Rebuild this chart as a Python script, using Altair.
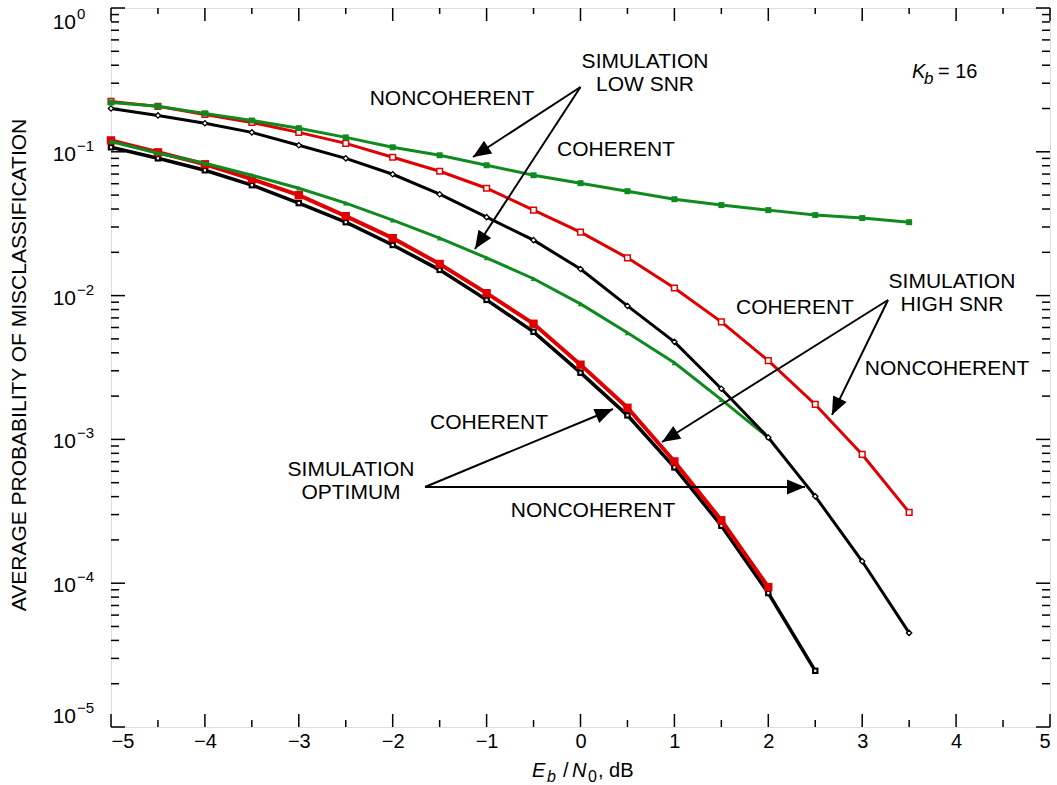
import math
import altair as alt
import pandas as pd

# ---------------- data ----------------
ebn0_long = [-5.0, -4.5, -4.0, -3.5, -3.0, -2.5, -2.0, -1.5, -1.0, -0.5, 0.0, 0.5,
             1.0, 1.5, 2.0, 2.5, 3.0, 3.5]
ebn0_coh = [-5.0, -4.5, -4.0, -3.5, -3.0, -2.5, -2.0, -1.5, -1.0, -0.5, 0.0, 0.5,
            1.0, 1.5, 2.0]
ebn0_opt_coh = [-5.0, -4.5, -4.0, -3.5, -3.0, -2.5, -2.0, -1.5, -1.0, -0.5, 0.0, 0.5,
                1.0, 1.5, 2.0, 2.5]

low_snr_noncoh = [0.220, 0.207, 0.185, 0.165, 0.146, 0.126, 0.1075, 0.0946, 0.0806,
                  0.0687, 0.0605, 0.0532, 0.0468, 0.0426, 0.0393, 0.0363, 0.0346, 0.0324]
high_snr_noncoh = [0.224, 0.207, 0.182, 0.160, 0.1365, 0.1145, 0.0916, 0.0732, 0.0558,
                   0.0393, 0.0276, 0.0183, 0.0113, 0.00657, 0.00353, 0.00175, 0.000786,
                   0.000311]
opt_noncoh = [0.200, 0.179, 0.158, 0.1365, 0.111, 0.0901, 0.0698, 0.0507, 0.0351,
              0.0243, 0.0153, 0.00848, 0.00477, 0.00225, 0.00103, 0.000402, 0.000142,
              0.0000451]
low_snr_coh = [0.118, 0.0976, 0.0832, 0.0687, 0.0558, 0.0440, 0.0335, 0.0251, 0.0183,
               0.0131, 0.00876, 0.00551, 0.00341, 0.00189, 0.00103]
high_snr_coh = [0.120, 0.0992, 0.0819, 0.0645, 0.0499, 0.0357, 0.0251, 0.0166, 0.0104,
                0.00637, 0.00331, 0.00166, 0.000703, 0.000274, 0.0000940]
opt_coh = [0.1075, 0.0901, 0.0744, 0.0586, 0.0440, 0.0324, 0.0225, 0.0151, 0.00934,
           0.0056, 0.00291, 0.00147, 0.000639, 0.000251, 0.0000854, 0.0000246]

x_major = [-5, -4, -3, -2, -1, 0, 1, 2, 3, 4, 5]
x_minor = [-4.5, -3.5, -2.5, -1.5, -0.5, 0.5, 1.5, 2.5, 3.5, 4.5]
y_major = [1.0, 0.1, 0.01, 0.001, 0.0001, 0.00001]
y_major_exp = ["0", "\u22121", "\u22122", "\u22123", "\u22124", "\u22125"]
y_minor = [m * 10.0 ** e for e in range(-5, 0) for m in range(2, 10)]

# annotation texts (data coordinates)
ann_text = ["NONCOHERENT", "SIMULATION", "LOW SNR", "COHERENT",
            "SIMULATION", "HIGH SNR", "COHERENT", "NONCOHERENT",
            "COHERENT", "SIMULATION", "OPTIMUM", "NONCOHERENT"]
ann_x = [-1.369, 0.687, 0.687, 0.378,
         3.956, 3.956, 2.284, 3.903,
         -0.974, -2.444, -2.444, 0.133]
ann_p = [0.2328, 0.421, 0.2913, 0.1029,
         0.01244, 0.00861, 0.0082, 0.00309,
         0.0013, 0.000612, 0.000424, 0.000318]

# arrows: start (apex) -> tip
arr_x0 = [0.0, 0.0, 3.275, 3.275, -1.656, -1.656]
arr_p0 = [0.2823, 0.2823, 0.00932, 0.00932, 0.000467, 0.000467]
arr_x1 = [-1.145, -1.124, 0.868, 2.678, 0.346, 2.391]
arr_p1 = [0.0920, 0.02109, 0.000959, 0.00148, 0.001627, 0.000467]

# ---------------- layout ----------------
W, H = 939, 719
GREEN = "#0f8a1f"
RED = "#e00000"
FONT = "Liberation Sans"

xs = alt.Scale(domain=[-5, 5], nice=False, zero=False)
ys = alt.Scale(type="log", domain=[1e-5, 1], nice=False)

AX = alt.Axis(values=x_major, labelFontSize=20, labelFont=FONT, labelColor="black",
              ticks=False, domain=False, grid=False, labelPadding=4, labelFlush=True,
              title=None)
AY = alt.Axis(labels=False, ticks=False, domain=False, grid=False, title=None)


def X(field="x"):
    return alt.X(f"{field}:Q", scale=xs, axis=AX)


def Y(field="p"):
    return alt.Y(f"{field}:Q", scale=ys, axis=AY)


def px(x):
    return (x + 5) / 10 * W


def py(p):
    return -math.log10(p) / 5 * H


layers = []

# ticks (inward, on all four sides)
def x_ticks(vals, blen, tlen):
    b = alt.Chart(pd.DataFrame({"x": vals})).mark_rule(color="black", strokeWidth=1.5)
    return [b.encode(x=X(), y=alt.value(H), y2=alt.value(H - blen)),
            b.encode(x=X(), y=alt.value(0), y2=alt.value(tlen))]


def y_ticks(vals, ln):
    b = alt.Chart(pd.DataFrame({"p": vals})).mark_rule(color="black", strokeWidth=1.5)
    return [b.encode(y=Y(), x=alt.value(0), x2=alt.value(ln)),
            b.encode(y=Y(), x=alt.value(W - ln), x2=alt.value(W))]


layers += x_ticks(x_major, 13, 13)
layers += x_ticks(x_minor, 7, 6)
layers += y_ticks(y_major, 14)
layers += y_ticks(y_minor, 8)


def line(xv, pv, color, width):
    df = pd.DataFrame({"x": xv, "p": pv})
    return alt.Chart(df).mark_line(color=color, strokeWidth=width).encode(x=X(), y=Y())


def pts(xv, pv, **kw):
    df = pd.DataFrame({"x": xv, "p": pv})
    return alt.Chart(df).mark_point(opacity=1, **kw).encode(x=X(), y=Y())


# coherent optimum (black, lower)
layers.append(line(ebn0_opt_coh, opt_coh, "black", 3.5))
layers.append(pts(ebn0_opt_coh, opt_coh, shape="square", filled=True, color="black", size=42))
layers.append(pts(ebn0_opt_coh, opt_coh, shape="square", filled=True, color="white", size=5))
# coherent high SNR (red filled squares)
layers.append(line(ebn0_coh, high_snr_coh, RED, 4))
layers.append(pts(ebn0_coh, high_snr_coh, shape="square", filled=True, color=RED, size=70))
# coherent low SNR (green triangles)
layers.append(line(ebn0_coh, low_snr_coh, GREEN, 3))
layers.append(pts(ebn0_coh, low_snr_coh, shape="triangle-up", filled=True, color=GREEN, size=30))
# noncoherent optimum (black, upper)
layers.append(line(ebn0_long, opt_noncoh, "black", 3))
layers.append(pts(ebn0_long, opt_noncoh, shape="diamond", filled=True, fill="white",
                  stroke="black", strokeWidth=1.3, size=28))
# noncoherent high SNR (red open squares)
layers.append(line(ebn0_long, high_snr_noncoh, RED, 3))
layers.append(pts(ebn0_long, high_snr_noncoh, shape="square", filled=True, fill="white",
                  stroke=RED, strokeWidth=1.5, size=32))
# noncoherent low SNR (green filled squares)
layers.append(line(ebn0_long, low_snr_noncoh, GREEN, 3))
layers.append(pts(ebn0_long, low_snr_noncoh, shape="square", filled=True, color=GREEN, size=36))

# arrows
arr_df = pd.DataFrame({"x": arr_x0, "p": arr_p0, "x2": arr_x1, "p2": arr_p1})
layers.append(alt.Chart(arr_df).mark_rule(color="black", strokeWidth=2).encode(
    x=X(), y=Y(), x2="x2:Q", y2="p2:Q"))
angles = []
for a, b, c, d in zip(arr_x0, arr_p0, arr_x1, arr_p1):
    dx = px(c) - px(a)
    dy = py(d) - py(b)
    angles.append(math.degrees(math.atan2(dx, -dy)) % 360)
head_df = pd.DataFrame({"x": arr_x1, "p": arr_p1, "ang": angles})
layers.append(alt.Chart(head_df).mark_point(
    shape="M0,0L0.42,1L-0.42,1Z", filled=True, color="black", opacity=1, size=1300,
    strokeWidth=0).encode(x=X(), y=Y(), angle=alt.Angle("ang:Q", scale=None)))

# annotation texts
ann_df = pd.DataFrame({"x": ann_x, "p": ann_p, "t": ann_text})
layers.append(alt.Chart(ann_df).mark_text(font=FONT, fontSize=21, align="center",
                                          baseline="middle", color="black").encode(
    x=X(), y=Y(), text="t:N"))

# K_b = 16
kb = alt.Chart(pd.DataFrame({"x": [3.530], "p": [0.326]}))
layers.append(kb.mark_text(font=FONT, fontSize=20, fontStyle="italic", align="left",
                           baseline="alphabetic", text="K").encode(x=X(), y=Y()))
layers.append(kb.mark_text(font=FONT, fontSize=17, fontStyle="italic", align="left",
                           baseline="alphabetic", text="b", dx=12, dy=6).encode(x=X(), y=Y()))
layers.append(kb.mark_text(font=FONT, fontSize=20, align="left",
                           baseline="alphabetic", text="= 16", dx=26).encode(x=X(), y=Y()))

# y tick labels (10 with superscript exponent)
ylab = pd.DataFrame({"p": y_major, "e": y_major_exp})
groups = [(ylab.iloc[[0]], 15), (ylab.iloc[1:5], 3), (ylab.iloc[[5]], -10)]
for sub, off in groups:
    c = alt.Chart(sub)
    layers.append(c.mark_text(font=FONT, fontSize=21, align="right", baseline="middle",
                              text="10", dy=off, color="black").encode(
        y=Y(), x=alt.value(-35)))
    layers.append(c.mark_text(font=FONT, fontSize=15, align="left", baseline="middle",
                              dy=off - 9, color="black").encode(
        y=Y(), x=alt.value(-34), text="e:N"))

# axis titles
one = alt.Chart(pd.DataFrame({"a": [0]}))
layers.append(one.mark_text(font=FONT, fontSize=21, angle=270, align="center",
                            baseline="middle", color="black").encode(
    x=alt.value(-91), y=alt.value(357),
    text=alt.value("AVERAGE PROBABILITY OF MISCLASSIFICATION")))
title_parts = [("E", 421, 769, 20, "italic"), ("b", 436, 774, 16, "italic"),
               ("/", 452, 769, 20, "normal"), ("N", 461, 769, 20, "italic"),
               ("0", 477, 774, 16, "normal"), (", dB", 487, 769, 20, "normal")]
for t, xx, yy, fs, st in title_parts:
    layers.append(one.mark_text(font=FONT, fontSize=fs, fontStyle=st, align="left",
                                baseline="alphabetic", color="black").encode(
        x=alt.value(xx), y=alt.value(yy), text=alt.value(t)))

chart = alt.layer(*layers).properties(
    width=W, height=H,
    padding={"left": 111, "top": 8, "right": 7, "bottom": 58},
    autosize=alt.AutoSizeParams(type="none"),
).configure_view(stroke="black", strokeWidth=2).configure(background="white")

chart.save("out.html", embed_options={"renderer": "svg", "actions": False})
